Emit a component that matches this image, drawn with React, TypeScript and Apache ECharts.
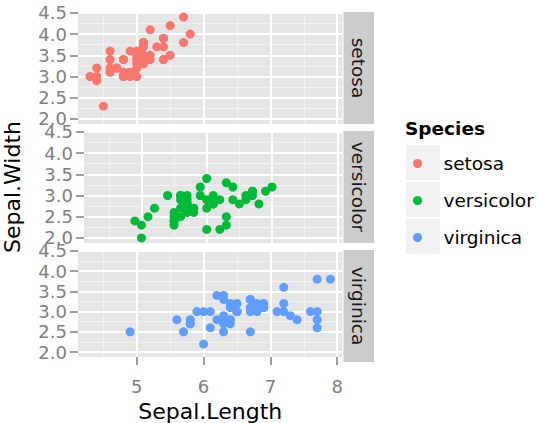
import React, { useEffect, useRef } from "react";
import * as echarts from "echarts";

const species = ["setosa", "versicolor", "virginica"];
const colors = ["#F8766D", "#00BA38", "#619CFF"];

const setosaLength = [5.1, 4.9, 4.7, 4.6, 5.0, 5.4, 4.6, 5.0, 4.4, 4.9, 5.4, 4.8, 4.8, 4.3, 5.8, 5.7, 5.4, 5.1, 5.7, 5.1, 5.4, 5.1, 4.6, 5.1, 4.8, 5.0, 5.0, 5.2, 5.2, 4.7, 4.8, 5.4, 5.2, 5.5, 4.9, 5.0, 5.5, 4.9, 4.4, 5.1, 5.0, 4.5, 4.4, 5.0, 5.1, 4.8, 5.1, 4.6, 5.3, 5.0];
const setosaWidth = [3.5, 3.0, 3.2, 3.1, 3.6, 3.9, 3.4, 3.4, 2.9, 3.1, 3.7, 3.4, 3.0, 3.0, 4.0, 4.4, 3.9, 3.5, 3.8, 3.8, 3.4, 3.7, 3.6, 3.3, 3.4, 3.0, 3.4, 3.5, 3.4, 3.2, 3.1, 3.4, 4.1, 4.2, 3.1, 3.2, 3.5, 3.6, 3.0, 3.4, 3.5, 2.3, 3.2, 3.5, 3.8, 3.0, 3.8, 3.2, 3.7, 3.3];
const versicolorLength = [7.0, 6.4, 6.9, 5.5, 6.5, 5.7, 6.3, 4.9, 6.6, 5.2, 5.0, 5.9, 6.0, 6.1, 5.6, 6.7, 5.6, 5.8, 6.2, 5.6, 5.9, 6.1, 6.3, 6.1, 6.4, 6.6, 6.8, 6.7, 6.0, 5.7, 5.5, 5.5, 5.8, 6.0, 5.4, 6.0, 6.7, 6.3, 5.6, 5.5, 5.5, 6.1, 5.8, 5.0, 5.6, 5.7, 5.7, 6.2, 5.1, 5.7];
const versicolorWidth = [3.2, 3.2, 3.1, 2.3, 2.8, 2.8, 3.3, 2.4, 2.9, 2.7, 2.0, 3.0, 2.2, 2.9, 2.9, 3.1, 3.0, 2.7, 2.2, 2.5, 3.2, 2.8, 2.5, 2.8, 2.9, 3.0, 2.8, 3.0, 2.9, 2.6, 2.4, 2.4, 2.7, 2.7, 3.0, 3.4, 3.1, 2.3, 3.0, 2.5, 2.6, 3.0, 2.6, 2.3, 2.7, 3.0, 2.9, 2.9, 2.5, 2.8];
const virginicaLength = [6.3, 5.8, 7.1, 6.3, 6.5, 7.6, 4.9, 7.3, 6.7, 7.2, 6.5, 6.4, 6.8, 5.7, 5.8, 6.4, 6.5, 7.7, 7.7, 6.0, 6.9, 5.6, 7.7, 6.3, 6.7, 7.2, 6.2, 6.1, 6.4, 7.2, 7.4, 7.9, 6.4, 6.3, 6.1, 7.7, 6.3, 6.4, 6.0, 6.9, 6.7, 6.9, 5.8, 6.8, 6.7, 6.7, 6.3, 6.5, 6.2, 5.9];
const virginicaWidth = [3.3, 2.7, 3.0, 2.9, 3.0, 3.0, 2.5, 2.9, 2.5, 3.6, 3.2, 2.7, 3.0, 2.5, 2.8, 3.2, 3.0, 3.8, 2.6, 2.2, 3.2, 2.8, 2.8, 2.7, 3.3, 3.2, 2.8, 3.0, 2.8, 3.0, 2.8, 3.8, 2.8, 2.8, 2.6, 3.0, 3.4, 3.1, 3.0, 3.1, 3.1, 3.1, 2.7, 3.2, 3.3, 3.0, 2.5, 3.0, 3.4, 3.0];

const lengths = [setosaLength, versicolorLength, virginicaLength];
const widths = [setosaWidth, versicolorWidth, virginicaWidth];

const yTicks = [2.0, 2.5, 3.0, 3.5, 4.0, 4.5];
const yMinor = [2.25, 2.75, 3.25, 3.75, 4.25];
const xTicks = [5, 6, 7, 8];
const xMinor = [4.5, 5.5, 6.5, 7.5];
const xTitle = "Sepal.Length";
const yTitle = "Sepal.Width";
const legendTitle = "Species";

const FONT = "DejaVu Sans";
const PANEL_LEFT = 78;
const PANEL_W = 264.5;
const PANEL_TOPS = [12, 131, 250];
const PANEL_H = 112;
const STRIP_X = 343.5;
const STRIP_W = 30.5;

export default function App() {
  const ref = useRef<HTMLDivElement>(null);
  useEffect(() => {
    document.body.style.margin = "0";
    const chart = echarts.init(ref.current!, null, { renderer: "svg" });

    const grids = PANEL_TOPS.map((top) => ({
      left: PANEL_LEFT,
      top,
      width: PANEL_W,
      height: PANEL_H,
      show: true,
      backgroundColor: "#e5e5e5",
      borderWidth: 0,
    }));

    const xAxes = PANEL_TOPS.map((_, i) => {
      const bottom = i === 2;
      return {
        type: "value",
        gridIndex: i,
        min: 4.12,
        max: 8.08,
        axisLine: { show: false },
        splitLine: { show: false },
        axisTick: {
          show: bottom,
          length: 8,
          customValues: xTicks,
          lineStyle: { color: "#7f7f7f", width: 1.5 },
        },
        axisLabel: {
          show: bottom,
          customValues: xTicks,
          margin: 20,
          color: "#7f7f7f",
          fontSize: 18,
          fontFamily: FONT,
          formatter: (v: number) => String(v),
        },
        name: bottom ? xTitle : "",
        nameLocation: "middle",
        nameGap: 43,
        nameTextStyle: { color: "#000", fontSize: 22, fontFamily: FONT },
      };
    });

    const yAxes = PANEL_TOPS.map((_, i) => ({
      type: "value",
      gridIndex: i,
      min: 1.88,
      max: 4.52,
      axisLine: { show: false },
      splitLine: { show: false },
      axisTick: {
        show: true,
        length: 8,
        customValues: yTicks,
        lineStyle: { color: "#7f7f7f", width: 1.5 },
      },
      axisLabel: {
        customValues: yTicks,
        margin: 11,
        color: "#7f7f7f",
        fontSize: 18,
        fontFamily: FONT,
        formatter: (v: number) => v.toFixed(1),
      },
      name: i === 1 ? yTitle : "",
      nameLocation: "middle",
      nameRotate: 90,
      nameGap: 61,
      nameTextStyle: { color: "#000", fontSize: 22, fontFamily: FONT },
    }));

    const gridSeries = PANEL_TOPS.map((_, i) => ({
      type: "scatter",
      name: "grid" + i,
      xAxisIndex: i,
      yAxisIndex: i,
      data: [],
      silent: true,
      markLine: {
        silent: true,
        symbol: ["none", "none"],
        z: 1,
        label: { show: false },
        lineStyle: { type: "solid" },
        emphasis: { disabled: true },
        data: [
          ...yMinor.map((v) => ({ yAxis: v, lineStyle: { color: "#f2f2f2", width: 0.9, type: "solid" } })),
          ...xMinor.map((v) => ({ xAxis: v, lineStyle: { color: "#f2f2f2", width: 0.9, type: "solid" } })),
          ...yTicks.map((v) => ({ yAxis: v, lineStyle: { color: "#ffffff", width: 1.8, type: "solid" } })),
          ...xTicks.map((v) => ({ xAxis: v, lineStyle: { color: "#ffffff", width: 1.8, type: "solid" } })),
        ],
      },
    }));

    const pointSeries = species.map((name, i) => ({
      type: "scatter",
      name,
      xAxisIndex: i,
      yAxisIndex: i,
      symbol: "circle",
      symbolSize: 9,
      z: 3,
      itemStyle: { color: colors[i], opacity: 1 },
      data: lengths[i].map((x, k) => [x, widths[i][k]]),
    }));

    const graphics: any[] = [];
    PANEL_TOPS.forEach((top, i) => {
      graphics.push({
        type: "rect",
        shape: { x: STRIP_X, y: top, width: STRIP_W, height: PANEL_H },
        style: { fill: "#cccccc" },
        silent: true,
      });
      graphics.push({
        type: "text",
        x: STRIP_X + STRIP_W / 2,
        y: top + PANEL_H / 2,
        rotation: -Math.PI / 2,
        style: {
          text: species[i],
          fill: "#1a1a1a",
          fontSize: 18.5,
          fontFamily: FONT,
          align: "center",
          verticalAlign: "middle",
        },
        silent: true,
      });
    });
    graphics.push({
      type: "text",
      x: 405,
      y: 128,
      style: {
        text: legendTitle,
        fill: "#000",
        fontSize: 18.5,
        fontWeight: "bold",
        fontFamily: FONT,
        align: "left",
        verticalAlign: "middle",
      },
      silent: true,
    });
    [145, 182, 219].forEach((y) => {
      graphics.push({
        type: "rect",
        z: -1,
        shape: { x: 406, y, width: 34, height: 35 },
        style: { fill: "#f2f2f2" },
        silent: true,
      });
    });

    chart.setOption({
      animation: false,
      backgroundColor: "#ffffff",
      grid: grids,
      xAxis: xAxes,
      yAxis: yAxes,
      legend: {
        data: species,
        orient: "vertical",
        left: 408,
        top: 140,
        itemWidth: 30,
        itemHeight: 9,
        itemGap: 0,
        icon: "circle",
        selectedMode: false,
        textStyle: {
          fontSize: 18.5,
          lineHeight: 37,
          color: "#000",
          fontFamily: FONT,
          padding: [0, 0, 0, 6],
        },
      },
      graphic: graphics,
      series: [...gridSeries, ...pointSeries],
    });
    return () => chart.dispose();
  }, []);
  return <div ref={ref} style={{ width: 538, height: 423 }} />;
}
